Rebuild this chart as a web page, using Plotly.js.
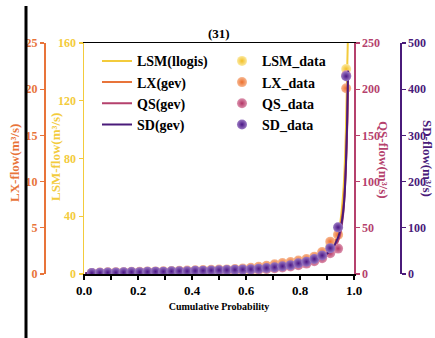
<!DOCTYPE html>
<html>
<head>
<meta charset="utf-8">
<script src="https://cdn.plot.ly/plotly-3.0.1.min.js"></script>
<style>html,body{margin:0;padding:0;background:#fff;}#chart{width:435px;height:338px;}</style>
</head>
<body>
<div id="chart"></div>
<script>
// Observed data: cumulative probability (plotting positions)
const probData = [0.029,0.059,0.088,0.118,0.147,0.176,0.206,0.235,0.265,0.294,0.324,0.353,0.382,0.412,0.441,0.471,0.5,0.529,0.559,0.588,0.618,0.647,0.676,0.706,0.735,0.765,0.794,0.824,0.853,0.882,0.912,0.941,0.971];
const lsmData = [0.3,0.5,0.5,0.6,0.6,0.8,0.8,1,1,1.1,1.1,1.3,1.4,1.4,1.6,1.8,1.9,2.1,2.2,2.4,2.7,3,3.5,4.2,5,5.9,7,8.5,10.4,13.6,19.2,27.2,142];
const lxData  = [0.12,0.15,0.18,0.2,0.2,0.23,0.25,0.28,0.28,0.3,0.33,0.35,0.38,0.4,0.43,0.45,0.48,0.5,0.55,0.6,0.68,0.78,0.9,1.05,1.18,1.3,1.45,1.63,1.88,2.38,3.5,4.25,20.1];
const qsData  = [0.75,1,1.25,1.25,1.5,1.5,1.75,2,2,2.25,2.25,2.5,2.75,2.75,3,3.25,3.5,3.75,4,4.25,4.5,5,5.5,6.25,7,8.25,9.5,11.25,13.75,17,22.5,27.5,215];
const sdData  = [2,2.6,3.1,3.0,3.6,4.2,4.0,4.6,5.1,5.0,5.7,6.1,6.0,6.8,7.2,7.6,8.3,8.5,9.2,9.6,10.3,11.2,13.1,14.6,16.8,19.2,23.1,26.4,32.5,40.2,56,101,428];

// Fitted curves
const probFit = [0.005,0.1,0.2,0.3,0.4,0.5,0.6,0.7,0.8,0.85,0.9,0.92,0.94,0.95,0.96,0.965,0.97,0.975,0.978];
const lsmFit = [0.16,0.5,0.8,1,1.3,1.6,2.2,3.4,6.1,8.8,14.1,18.4,27.2,36.8,56,72,99,144,168];
const lxFit  = [0.1,0.175,0.225,0.275,0.35,0.45,0.575,0.825,1.3,1.7,2.5,3.125,4.25,5.25,7.25,9,12,16.5,20.5];
const qsFit  = [0.5,1.25,1.75,2.25,2.75,3.25,4,5.75,9.25,12.5,19.5,24.5,35,45,65,85,115,162.5,220];
const sdFit  = [1.5,3,4,5,6,7.5,9.5,13.5,22,29,44,55,77.5,97.5,135,170,235,340,440];

const xTicks = [0,0.2,0.4,0.6,0.8,1.0];
const xTickText = ['0.0','0.2','0.4','0.6','0.8','1.0'];

const cLSM = '#F3CB3C', cLX = '#E8743A', cQS = '#B5416D', cSD = '#4A1B7A';
const mLSM = '#F2BE25', mLX = '#EC6E2C', mQS = '#B23465', mSD = '#4A1585';
const hLSM = '#FBE9A0', hLX = '#F7B892', hQS = '#DC93AE', hSD = '#9C7CC4';
const FF = '"Liberation Serif", "Times New Roman", Times, serif';

function line(name, y, ax, col){
  return {x: probFit, y: y, yaxis: ax, type:'scatter', mode:'lines', name: name,
    line:{color: col, width: 2, shape:'spline', smoothing:0.6}, legend:'legend', hoverinfo:'skip'};
}
function pts(name, y, ax, col, hi){
  return {x: probData, y: y, yaxis: ax, type:'scatter', mode:'markers', name: name,
    marker:{size: 10, color: hi, gradient:{type:'radial', color: col}, line:{width:0}},
    legend:'legend2', hoverinfo:'skip'};
}

const traces = [
  line('LSM(llogis)', lsmFit, 'y', cLSM),
  pts('LSM_data', lsmData, 'y', mLSM, hLSM),
  line('LX(gev)', lxFit, 'y2', cLX),
  pts('LX_data', lxData, 'y2', mLX, hLX),
  line('QS(gev)', qsFit, 'y3', cQS),
  pts('QS_data', qsData, 'y3', mQS, hQS),
  line('SD(gev)', sdFit, 'y4', cSD),
  pts('SD_data', sdData, 'y4', mSD, hSD)
];

function yax(col, range, dtick, extra){
  return Object.assign({range: range, dtick: dtick, tick0: 0, color: col, linecolor: col, linewidth: 1.5,
    showline: true, showgrid: false, zeroline: false, ticks:'outside', ticklen: 4, tickwidth: 1.2, tickcolor: col,
    tickfont:{family: FF, size: 12, weight:'bold', color: col}, fixedrange: true}, extra);
}

const dom = [(84-10)/415, (354-10)/415];

const layout = {
  width: 435, height: 338,
  margin: {l: 10, r: 10, t: 43, b: 64},
  paper_bgcolor: '#fff', plot_bgcolor: '#fff',
  showlegend: true,
  title: {text: '(31)', x: 0.503, xref:'container', y: 1-33/338, yref:'container', yanchor:'middle', xanchor:'center',
    font: {family: FF, size: 13, weight:'bold', color:'#000'}},
  xaxis: {domain: dom, range: [0, 1], tickvals: xTicks, ticktext: xTickText, showline: true, mirror: true,
    linecolor: '#000', linewidth: 1.5, ticks: 'outside', ticklen: 4, tickwidth: 1.2, tickcolor:'#000',
    minor: {dtick: 0.1, ticklen: 4, tickwidth: 1.2, tickcolor:'#000', ticks:'outside'},
    showgrid: false, zeroline: false, tickfont: {family: FF, size: 13, weight:'bold', color:'#000'},
    title: {text: 'Cumulative Probability', font: {family: FF, size: 10, weight:'bold', color:'#000'}, standoff: 6},
    fixedrange: true},
  yaxis: yax(cLSM, [0,160], 40, {anchor:'x', side:'left'}),
  yaxis2: yax(cLX, [0,25], 5, {overlaying:'y', anchor:'free', side:'left', position:(44-10)/415}),
  yaxis3: yax(cQS, [0,250], 50, {overlaying:'y', anchor:'x', side:'right'}),
  yaxis4: yax(cSD, [0,500], 100, {overlaying:'y', anchor:'free', side:'right', position:(400-10)/415}),
  legend: {x: (97-10)/415, y: 0.99, xanchor:'left', yanchor:'top', bgcolor:'rgba(0,0,0,0)',
    font: {family: FF, size: 14, weight:'bold', color:'#000'}, tracegroupgap: 0},
  legend2: {x: (222-10)/415, y: 0.99, xanchor:'left', yanchor:'top', bgcolor:'rgba(0,0,0,0)',
    font: {family: FF, size: 14, weight:'bold', color:'#000'}, tracegroupgap: 0},
  annotations: [
    {text: 'LX-flow(m³/s)', xref:'paper', yref:'paper', x: (14-10)/415, y: 1-(163-43)/231, textangle: -90,
      showarrow: false, xanchor:'center', yanchor:'middle', font:{family: FF, size: 13, weight:'bold', color: cLX}},
    {text: 'LSM-flow(m³/s)', xref:'paper', yref:'paper', x: (55-10)/415, y: 1-(157-43)/231, textangle: -90,
      showarrow: false, xanchor:'center', yanchor:'middle', font:{family: FF, size: 13, weight:'bold', color: cLSM}},
    {text: 'QS-flow(m³/s)', xref:'paper', yref:'paper', x: (384-10)/415, y: 1-(160-43)/231, textangle: 90,
      showarrow: false, xanchor:'center', yanchor:'middle', font:{family: FF, size: 13, weight:'bold', color: cQS}},
    {text: 'SD-flow(m³/s)', xref:'paper', yref:'paper', x: (428-10)/415, y: 1-(158-43)/231, textangle: 90,
      showarrow: false, xanchor:'center', yanchor:'middle', font:{family: FF, size: 13, weight:'bold', color: cSD}}
  ],
  shapes: [
    {type:'line', xref:'paper', yref:'paper', x0:(26-10)/415, x1:(26-10)/415, y0: 1+(43-6)/231, y1: -(338-274)/231,
      line:{color:'#000', width:3}}
  ]
};

Plotly.newPlot('chart', traces, layout, {displayModeBar: false, staticPlot: true});
</script>
</body>
</html>
